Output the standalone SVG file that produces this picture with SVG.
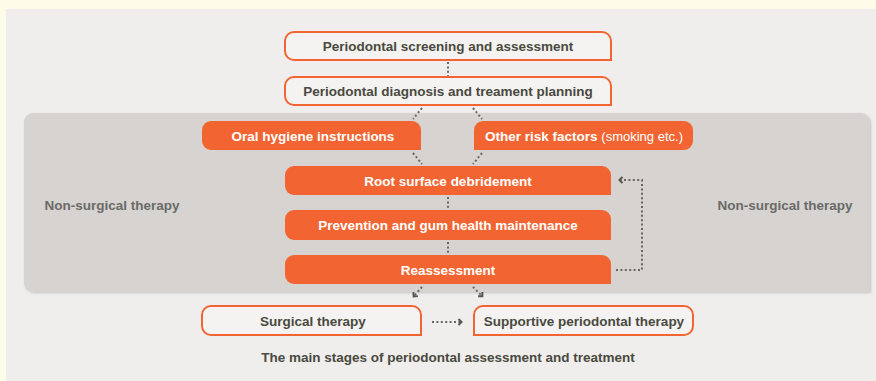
<svg xmlns="http://www.w3.org/2000/svg" width="876" height="381" viewBox="0 0 876 381">
<style>
.t{font-family:"Liberation Sans",Arial,sans-serif;font-weight:bold;font-size:13.5px;text-anchor:middle}
.dk{fill:#4a4940}
.wh{fill:#ffffff}
.gr{fill:#6a6a68}
.ob{fill:#f4f3f1;stroke:#f26532;stroke-width:2}
.fb{fill:#f26532}
.dot{fill:none;stroke:#666663;stroke-width:2;stroke-dasharray:2 2.4}
</style>
<defs>
<filter id="sh" x="-5%" y="-20%" width="110%" height="150%">
<feDropShadow dx="1" dy="1" stdDeviation="0.8" flood-color="#000" flood-opacity="0.18"/>
</filter>
<marker id="ah" markerWidth="8" markerHeight="8" refX="4" refY="4" orient="auto" markerUnits="userSpaceOnUse">
<path d="M1.5,1 L4.5,4 L1.5,7" fill="none" stroke="#555552" stroke-width="2"/>
</marker>
</defs>
<rect x="0" y="0" width="876" height="381" fill="#fffbe9"/>
<rect x="6" y="9" width="870" height="372" fill="#efeeec"/>
<path d="M33,113 H861 A9,9 0 0 1 870,122 V292 H33 A9,9 0 0 1 24,283 V122 A9,9 0 0 1 33,113 Z" fill="#d6d3d0" filter="url(#sh)"/>
<text class="t gr" x="112" y="210">Non-surgical therapy</text>
<text class="t gr" x="785" y="210">Non-surgical therapy</text>
<g id="connectors">
<path class="dot" d="M448,62 V76"/>
<path class="dot" d="M422,108 L413,119"/>
<path class="dot" d="M473,108 L482,119"/>
<path class="dot" d="M413,153 L422,164"/>
<path class="dot" d="M482,153 L473,164"/>
<path class="dot" d="M448,197 V209"/>
<path class="dot" d="M448,242 V254"/>
<path class="dot" d="M616,270 H642 V180 H620" marker-end="url(#ah)"/>
<path class="dot" d="M422,287 L414,296" marker-end="url(#ah)"/>
<path class="dot" d="M473,287 L482,296" marker-end="url(#ah)"/>
<path class="dot" d="M432,322 H461" marker-end="url(#ah)"/>
</g>
<g id="n1"><path class="ob" d="M294,32 H602 A9,9 0 0 1 611,41 V60 H294 A9,9 0 0 1 285,51 V41 A9,9 0 0 1 294,32 Z"/><text class="t dk" x="448" y="51">Periodontal screening and assessment</text></g>
<g id="n2"><path class="ob" d="M294,77 H602 A9,9 0 0 1 611,86 V105 H294 A9,9 0 0 1 285,96 V86 A9,9 0 0 1 294,77 Z"/><text class="t dk" x="448" y="96">Periodontal diagnosis and treament planning</text></g>
<g id="n3"><path class="fb" d="M211,121 H412 A9,9 0 0 1 421,130 V150 H211 A9,9 0 0 1 202,141 V130 A9,9 0 0 1 211,121 Z"/><text class="t wh" x="313" y="140.5">Oral hygiene instructions</text></g>
<g id="n4"><path class="fb" d="M483,121 H684 A9,9 0 0 1 693,130 V141 A9,9 0 0 1 684,150 H474 V130 A9,9 0 0 1 483,121 Z"/><text class="t wh" x="584" y="140.5">Other risk factors <tspan style="font-weight:normal;font-size:13px">(smoking etc.)</tspan></text></g>
<g id="n5"><path class="fb" d="M294,166 H602 A9,9 0 0 1 611,175 V195 H294 A9,9 0 0 1 285,186 V175 A9,9 0 0 1 294,166 Z"/><text class="t wh" x="448" y="185.5">Root surface debridement</text></g>
<g id="n6"><path class="fb" d="M294,210 H602 A9,9 0 0 1 611,219 V240 H294 A9,9 0 0 1 285,231 V219 A9,9 0 0 1 294,210 Z"/><text class="t wh" x="448" y="230">Prevention and gum health maintenance</text></g>
<g id="n7"><path class="fb" d="M294,255 H602 A9,9 0 0 1 611,264 V284 H294 A9,9 0 0 1 285,275 V264 A9,9 0 0 1 294,255 Z"/><text class="t wh" x="448" y="274.5">Reassessment</text></g>
<g id="n8"><path class="ob" d="M211,306 H412 A9,9 0 0 1 421,315 V335 H211 A9,9 0 0 1 202,326 V315 A9,9 0 0 1 211,306 Z"/><text class="t dk" x="313" y="325.5">Surgical therapy</text></g>
<g id="n9"><path class="ob" d="M483,306 H684 A9,9 0 0 1 693,315 V326 A9,9 0 0 1 684,335 H474 V315 A9,9 0 0 1 483,306 Z"/><text class="t dk" x="584" y="325.5">Supportive periodontal therapy</text></g>
<text class="t dk" x="448" y="362">The main stages of periodontal assessment and treatment</text>
</svg>
